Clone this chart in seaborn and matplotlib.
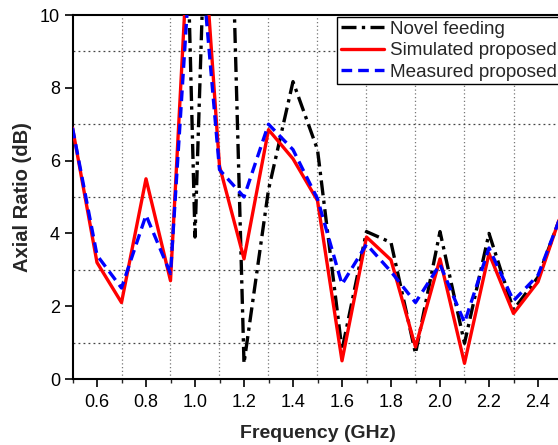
import numpy as np
import pandas as pd
import matplotlib
matplotlib.use("Agg")
import matplotlib.pyplot as plt
import seaborn as sns
from matplotlib.ticker import MultipleLocator

freq = [0.5, 0.6, 0.7, 0.8, 0.9, 1.0, 1.1, 1.2, 1.3, 1.4, 1.5,
        1.6, 1.7, 1.8, 1.9, 2.0, 2.1, 2.2, 2.3, 2.4, 2.5]
simulated = [6.9, 3.2, 2.1, 5.5, 2.7, 15.5, 5.85, 3.3, 6.85, 6.05, 4.9,
             0.5, 3.9, 3.27, 0.88, 3.3, 0.43, 3.45, 1.8, 2.67, 4.65]
measured = [6.9, 3.4, 2.5, 4.5, 2.9, 13.5, 5.75, 5.0, 7.0, 6.3, 4.95,
            2.6, 3.7, 2.95, 2.1, 3.15, 1.55, 3.6, 2.15, 2.85, 4.6]
novel_freq = [0.9, 1.0, 1.1, 1.2, 1.3, 1.4, 1.5, 1.6, 1.7, 1.8, 1.9,
              2.0, 2.1, 2.2, 2.3, 2.4, 2.5]
novel = [30.0, 3.9, 25.0, 0.43, 5.2, 8.17, 6.3, 0.8, 4.05, 3.75, 0.7,
         4.05, 0.98, 4.0, 1.9, 2.8, 4.6]

x_ticks = [0.6, 0.8, 1.0, 1.2, 1.4, 1.6, 1.8, 2.0, 2.2, 2.4]
y_ticks = [0, 2, 4, 6, 8, 10]

sns.set_style("ticks")
plt.rcParams["font.family"] = ["Liberation Sans", "DejaVu Sans"]

fig = plt.figure(figsize=(5.58, 4.45), dpi=100)
ax = fig.add_axes([72.5 / 558, 1 - 379 / 445, (562.5 - 72.5) / 558, (379 - 15) / 445])

sns.lineplot(x=novel_freq, y=novel, ax=ax, color="black", linewidth=2.4,
             linestyle=(0, (4.5, 1.6, 1.0, 1.6)), label="Novel feeding", zorder=3)
sns.lineplot(x=freq, y=simulated, ax=ax, color="#ff0000", linewidth=2.4,
             linestyle="-", label="Simulated proposed", zorder=4)
sns.lineplot(x=freq, y=measured, ax=ax, color="#0000ff", linewidth=2.4,
             linestyle=(0, (3.2, 1.8)), label="Measured proposed", zorder=5)

ax.set_xlim(0.5, 2.5)
ax.set_ylim(0, 10)
ax.set_xticks(x_ticks)
ax.set_yticks(y_ticks)
ax.xaxis.set_minor_locator(MultipleLocator(0.1))
ax.yaxis.set_minor_locator(MultipleLocator(1))
ax.tick_params(axis="both", which="major", direction="out", length=6, width=1.2,
               labelsize=13, colors="black")
ax.tick_params(axis="x", which="major", pad=5)
ax.tick_params(axis="y", which="major", pad=3)
ax.tick_params(axis="x", which="minor", direction="out", length=3, width=1.0)
ax.tick_params(axis="y", which="minor", length=0)

# dotted grid at odd positions
for xv in np.arange(0.7, 2.51, 0.2):
    ax.axvline(xv, color="#777777", linestyle=(0, (1, 2)), linewidth=0.9, zorder=1)
for yv in [1, 3, 5, 7, 9]:
    ax.axhline(yv, color="#444444", linestyle=(0, (1.5, 2.5)), linewidth=0.9, zorder=1)

for side in ["left", "bottom", "top", "right"]:
    ax.spines[side].set_visible(True)
    ax.spines[side].set_linewidth(1.5)
    ax.spines[side].set_color("black")

ax.set_xlabel("Frequency (GHz)", fontsize=14, fontweight="bold", labelpad=10)
ax.set_ylabel("Axial Ratio (dB)", fontsize=14.5, fontweight="bold", labelpad=6)

leg = ax.legend(loc="upper right", fontsize=13.6, frameon=True, fancybox=False,
                edgecolor="black", framealpha=1, handlelength=2.3,
                handletextpad=0.3, labelspacing=0.22, borderpad=0.2,
                borderaxespad=0.1)
leg.get_frame().set_linewidth(1.0)

fig.savefig("out.png", dpi=100)
